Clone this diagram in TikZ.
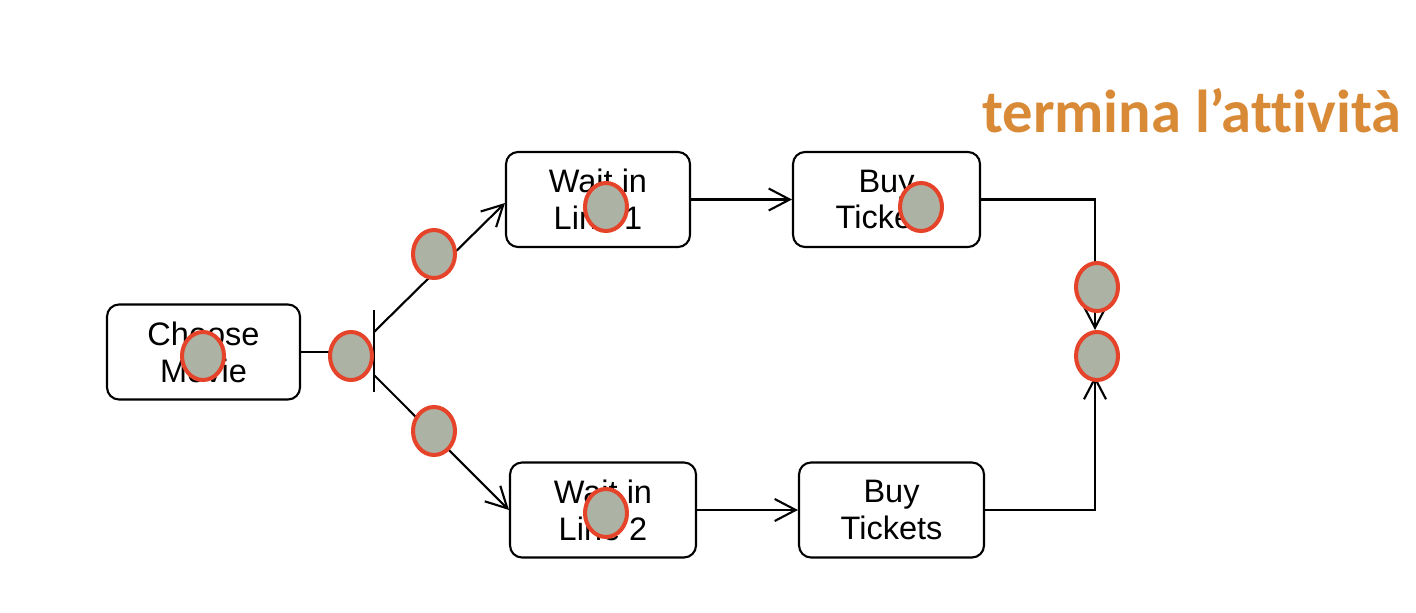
\documentclass[tikz,border=0pt]{standalone}
\usepackage{fontspec}
\setmainfont{Liberation Sans}
\newfontfamily\titlefont[Ligatures={CommonOff,TeX}]{Carlito}
\usetikzlibrary{arrows.meta,shapes.geometric}
\definecolor{tokenfill}{HTML}{ADB3A4}
\definecolor{tokenline}{HTML}{E5432A}
\definecolor{titleorange}{HTML}{D98A37}
\tikzset{
  state/.style={draw, line width=1.2pt, rounded corners=0.24cm, align=center,
    inner sep=0pt, minimum height=1.9cm},
  flow/.style={line width=1.2pt, -{Straight Barb[length=0.42cm, width=0.44cm]}},
  token/.style={ellipse, draw=tokenline, fill=tokenfill, line width=2.3pt,
    minimum width=0.84cm, minimum height=0.96cm, inner sep=0pt},
}

\begin{document}
\begin{tikzpicture}[x=0.02cm, y=-0.02cm, font=\fontsize{18.5}{21}\selectfont]
  \useasboundingbox (0,0) rectangle (1416,612);
  % activity states
  \node[state, minimum width=3.86cm] (choose) at (203.5,352) {Choose\\Movie};
  \node[state, minimum width=3.68cm] (wait1) at (598,199.5) {Wait in\\Line 1};
  \node[state, minimum width=3.74cm] (buy1) at (886.5,199.5) {Buy\\Tickets};
  \node[state, minimum width=3.72cm] (wait2) at (603,510) {Wait in\\Line 2};
  \node[state, minimum width=3.70cm] (buy2) at (891.5,510) {Buy\\Tickets};
  % fork bar
  \node[fill=black, inner sep=0pt, minimum width=1.2pt, minimum height=1.64cm] (fork) at (374,351) {};
  \coordinate (fork1) at (374,332);
  \coordinate (fork2) at (374,375);
  \coordinate (joinin) at (1095,330);
  \coordinate (joinout) at (1095,376);
  % flows
  \draw[line width=1.2pt] (choose.east) -- (fork.west |- choose.east);
  \draw[flow] (fork1) -- ([yshift=-0.07cm]wait1.west);
  \draw[flow] (fork2) -- (wait2.west);
  \draw[flow] (wait1.east) -- (buy1.west);
  \draw[flow] (wait2.east) -- (buy2.west);
  \draw[flow] (buy1.east) -| (joinin);
  \draw[flow] (buy2.east) -| (joinout);
  % tokens
  \node[token] (t1) at (203,356) {};
  \node[token] (t2) at (351,356) {};
  \node[token] (t3) at (434,254) {};
  \node[token] (t4) at (434,431) {};
  \node[token] (t5) at (606,207) {};
  \node[token] (t6) at (921,207) {};
  \node[token] (t7) at (606,513) {};
  \node[token] (t8) at (1097,287) {};
  \node[token] (t9) at (1097,356) {};
  % title
  \node[anchor=base west, inner sep=0pt, text=titleorange,
    font=\titlefont\bfseries\fontsize{34.5}{40}\selectfont] (title) at (982,132) {termina l’attività};
\end{tikzpicture}
\end{document}
